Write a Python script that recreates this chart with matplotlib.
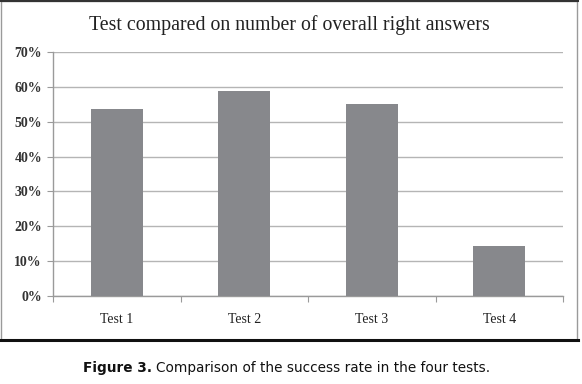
import matplotlib.pyplot as plt
from matplotlib.patches import Rectangle

categories = ['Test 1', 'Test 2', 'Test 3', 'Test 4']
right_answers = [0.536, 0.588, 0.551, 0.143]  # share of right answers
y_ticks = [0.0, 0.1, 0.2, 0.3, 0.4, 0.5, 0.6, 0.7]

W, H = 582, 384
fig = plt.figure(figsize=(W / 100, H / 100), dpi=100)

# outer chart frame
fig.patches.append(Rectangle((1 / W, 1 - 340 / H), 576 / W, 339 / H, transform=fig.transFigure,
                             fill=False, edgecolor='#9a9a9a', linewidth=1.0))
fig.add_artist(plt.Line2D([0, 578 / W], [1 - 340 / H, 1 - 340 / H], transform=fig.transFigure,
                          color='#111111', linewidth=2.2))
fig.add_artist(plt.Line2D([0, 578 / W], [1 - 0.5 / H, 1 - 0.5 / H], transform=fig.transFigure,
                          color='#333333', linewidth=1.5))

left, right, top, bottom = 53, 563, 52, 296
ax = fig.add_axes([left / W, 1 - bottom / H, (right - left) / W, (bottom - top) / H])

x = range(len(categories))
ax.bar(x, right_answers, width=0.41, color='#87888c', zorder=3)

ax.set_xlim(-0.5, len(categories) - 0.5)
ax.set_ylim(0, 0.7)
ax.set_yticks(y_ticks)
ax.set_yticklabels([f'{int(round(v * 100))}%' for v in y_ticks],
                   family='Liberation Serif', fontsize=10, fontweight='bold', color='#333333')
ax.yaxis.grid(True, color='#b5b5b5', linewidth=1.0, zorder=0)

# category boundaries get the tick marks, labels sit in the middle
ax.set_xticks([i - 0.5 for i in range(len(categories) + 1)])
ax.set_xticklabels([])
ax.set_xticks(list(x), minor=True)
ax.set_xticklabels(categories, minor=True, family='Liberation Serif', fontsize=10, color='#222222')
ax.tick_params(axis='x', which='minor', length=0, pad=12)
ax.tick_params(axis='x', which='major', length=4, color='#9a9a9a', direction='out')
ax.tick_params(axis='y', length=4, color='#9a9a9a', direction='out', pad=4)

for side in ['top', 'right']:
    ax.spines[side].set_visible(False)
for side in ['left', 'bottom']:
    ax.spines[side].set_color('#9a9a9a')
    ax.spines[side].set_linewidth(1.0)

fig.text(289 / W, 1 - 25 / H, 'Test compared on number of overall right answers',
         ha='center', va='center', family='Liberation Serif', fontsize=14.3, color='#222222')

# caption: bold label followed by plain text
cap_size = 9.8
bold = fig.text(83 / W, 1 - 368 / H, 'Figure 3.', ha='left', va='center',
                family='DejaVu Sans', fontsize=cap_size, fontweight='bold', color='#111111')
renderer = fig.canvas.get_renderer()
bb = bold.get_window_extent(renderer)
fig.text((bb.x1 + 4) / W, 1 - 368 / H, 'Comparison of the success rate in the four tests.',
         ha='left', va='center', family='DejaVu Sans', fontsize=cap_size, color='#111111')

fig.savefig('out.png', dpi=100)
